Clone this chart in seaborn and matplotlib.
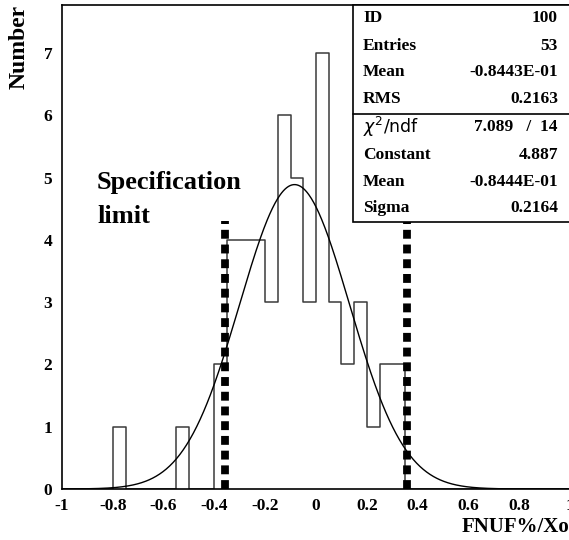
import numpy as np
import pandas as pd
import matplotlib
matplotlib.use("Agg")
import matplotlib.pyplot as plt
from matplotlib.patches import Rectangle
from matplotlib.lines import Line2D
from matplotlib.ticker import MultipleLocator, FuncFormatter
import seaborn as sns

# ---- histogram contents (bin width 0.05 on [-1, 1]) ----
bin_lower_edges = [-0.80, -0.55, -0.40, -0.35, -0.30, -0.25, -0.20, -0.15, -0.10,
                   -0.05, 0.00, 0.05, 0.10, 0.15, 0.20, 0.25, 0.30]
bin_counts = [1, 1, 2, 4, 4, 4, 3, 6, 5, 3, 7, 3, 2, 3, 1, 2, 2]
bin_width = 0.05

# ---- gaussian fit results ----
fit_constant = 4.887
fit_mean = -0.08444
fit_sigma = 0.2164

# ---- specification limits ----
spec_limits = [-0.36, 0.36]
spec_height = 4.3

# ---- statistics box ----
stats_top = [("ID", "100"), ("Entries", "53"), ("Mean", "-0.8443E-01"), ("RMS", "0.2163")]
stats_fit = [("Constant", "4.887"), ("Mean", "-0.8444E-01"), ("Sigma", "0.2164")]
chi2_text = "7.089   /  14"

sns.set_style("white")
plt.rcParams["axes.unicode_minus"] = False
plt.rcParams["lines.scale_dashes"] = False
plt.rcParams["mathtext.fontset"] = "dejavusans"
plt.rcParams["text.color"] = "black"
plt.rcParams["xtick.color"] = "black"
plt.rcParams["ytick.color"] = "black"
plt.rcParams["xtick.labelcolor"] = "black"
plt.rcParams["ytick.labelcolor"] = "black"
SERIF = ["Liberation Serif", "DejaVu Serif"]

W, H = 569, 540
fig = plt.figure(figsize=(W / 100, H / 100), dpi=100)
ax = fig.add_axes([62 / W, (H - 489) / H, 508 / W, 484 / H])

df = pd.DataFrame({
    "x": np.array(bin_lower_edges) + bin_width / 2,
    "n": bin_counts,
})
edges = [round(-1 + i * bin_width, 4) for i in range(41)]
sns.histplot(data=df, x="x", weights="n", bins=edges, element="step", fill=False,
             color="#3a3a3a", linewidth=1.1, ax=ax)

# fitted gaussian
xs = np.linspace(-1, 1, 600)
ys = fit_constant * np.exp(-0.5 * ((xs - fit_mean) / fit_sigma) ** 2)
sns.lineplot(x=xs, y=ys, color="black", linewidth=1.0, ax=ax)

# specification limit markers
for lim in spec_limits:
    ax.plot([lim, lim], [0, spec_height], color="black", linewidth=5.6,
            linestyle=(0, (6.4, 4.2)), solid_capstyle="butt", dash_capstyle="butt",
            zorder=5)

ax.set_xlim(-1, 1)
ax.set_ylim(0, 7.77)
ax.set_xlabel("")
ax.set_ylabel("")

ax.xaxis.set_major_locator(MultipleLocator(0.2))
ax.xaxis.set_minor_locator(MultipleLocator(0.05))
ax.yaxis.set_major_locator(MultipleLocator(1))
ax.yaxis.set_minor_locator(MultipleLocator(0.2))
ax.xaxis.set_major_formatter(FuncFormatter(lambda v, p: f"{round(v, 2):g}"))
ax.yaxis.set_major_formatter(FuncFormatter(lambda v, p: f"{int(round(v))}"))
ax.tick_params(which="both", direction="in", top=False, right=False, width=1.0,
               color="black", labelcolor="black")
ax.tick_params(axis="x", which="major", length=6.5, pad=6.5)
ax.tick_params(axis="x", which="minor", length=3.5)
ax.tick_params(axis="y", which="major", length=5, pad=7)
ax.tick_params(axis="y", which="minor", length=3)
for lab in ax.get_xticklabels() + ax.get_yticklabels():
    lab.set_fontfamily(SERIF)
    lab.set_fontweight("bold")
    lab.set_fontsize(12.5)
for s in ax.spines.values():
    s.set_linewidth(1.2)
    s.set_color("black")

# axis titles
fig.text(19 / W, 1 - 5 / H, "Number", rotation=90, ha="center", va="top",
         fontfamily=SERIF, fontweight="bold", fontsize=17, color="black")
fig.text(569 / W, 1 - 532 / H, "FNUF%/Xo", ha="right", va="baseline",
         fontfamily=SERIF, fontweight="bold", fontsize=15, color="black")

# annotation
fig.text(97 / W, 1 - 189 / H, "Specification", ha="left", va="baseline",
         fontfamily=SERIF, fontweight="bold", fontsize=19, color="black")
fig.text(97 / W, 1 - 223 / H, "limit", ha="left", va="baseline",
         fontfamily=SERIF, fontweight="bold", fontsize=19, color="black")

# statistics box
bx0, bx1, by0, ymid, by1 = 353, 575, 5, 114, 222
fig.patches.append(Rectangle((bx0 / W, 1 - by1 / H), (bx1 - bx0) / W, (by1 - by0) / H,
                             transform=fig.transFigure, facecolor="white",
                             edgecolor="black", linewidth=1.2, zorder=10))
fig.lines.append(Line2D([bx0 / W, bx1 / W], [1 - ymid / H, 1 - ymid / H],
                        transform=fig.transFigure, color="black", linewidth=1.2,
                        zorder=11))

def stat_row(yc, label, value, label_family=SERIF, label_weight="bold"):
    fig.text(363 / W, 1 - yc / H, label, ha="left", va="center",
             fontfamily=label_family, fontweight=label_weight, fontsize=12.5,
             color="black", zorder=12)
    fig.text(558 / W, 1 - yc / H, value, ha="right", va="center",
             fontfamily=SERIF, fontweight="bold", fontsize=12.5,
             color="black", zorder=12)

top_rows = [18.5, 45.5, 72.5, 99]
for yc, (lab, val) in zip(top_rows, stats_top):
    stat_row(yc, lab, val)
stat_row(127, r"$\chi^2$/ndf", chi2_text, label_family=["DejaVu Sans"],
         label_weight="normal")
fit_rows = [155, 182, 208.5]
for yc, (lab, val) in zip(fit_rows, stats_fit):
    stat_row(yc, lab, val)

fig.savefig("out.png", dpi=100, facecolor="white")
